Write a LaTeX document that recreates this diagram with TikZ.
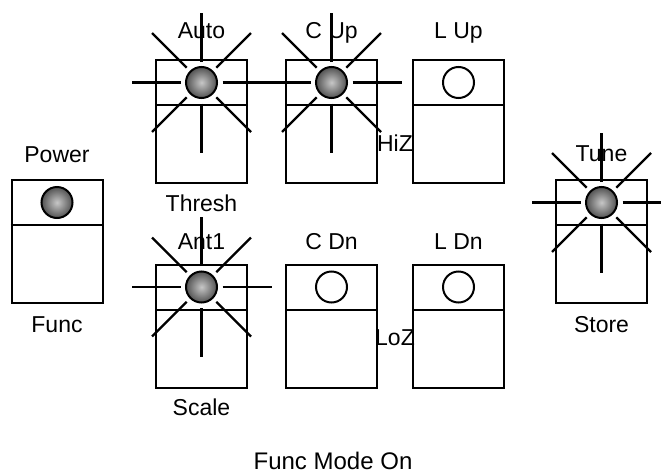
\documentclass[tikz,border=0pt]{standalone}
\usepackage{fontspec}
\setmainfont{Liberation Sans}
\usetikzlibrary{positioning}

\tikzset{
  btn/.style={draw,line width=2pt,minimum width=91pt,minimum height=123pt,inner sep=0pt},
  led/.style={circle,draw,line width=2pt,minimum size=31pt,inner sep=0pt},
  ledon/.style={led,shading=radial,inner color=black!22,outer color=black!68},
  ray/.style={line width=2.4pt},
  lbl/.style={font=\fontsize{23}{25}\selectfont,inner sep=0pt,text height=16.5pt,text depth=0pt}
}

\begin{document}
\begin{tikzpicture}[x=1pt,y=-1pt]
  \useasboundingbox (0,0) rectangle (661,474);

  % ボタン
  \node[btn] (power) at (57,241.5) {};
  \node[btn] (auto)  at (201.5,121.5) {};
  \node[btn] (cup)   at (331.5,121.5) {};
  \node[btn] (lup)   at (458.5,121.5) {};
  \node[btn] (ant)   at (201.5,326) {};
  \node[btn] (cdn)   at (331.5,326) {};
  \node[btn] (ldn)   at (458.5,326) {};
  \node[btn] (tune)  at (601.5,241.5) {};

  % 仕切り
  \foreach \n in {power,auto,cup,lup,ant,cdn,ldn,tune}
    \draw[line width=2pt] ([yshift=-46pt]\n.north west) -- ([yshift=-46pt]\n.north east);

  % LED
  \node[ledon,below=7pt of power.north] (powerled) {};
  \node[ledon,below=7pt of auto.north] (autoled) {};
  \node[ledon,below=7pt of cup.north] (cupled) {};
  \node[led,below=7pt of lup.north] (lupled) {};
  \node[ledon,below=7pt of ant.north] (antled) {};
  \node[led,below=7pt of cdn.north] (cdnled) {};
  \node[led,below=7pt of ldn.north] (ldnled) {};
  \node[ledon,below=7pt of tune.north] (tuneled) {};

  % 点滅
  \foreach \n in {autoled,cupled,antled,tuneled}
    \foreach \a in {0,45,...,315}
      \draw[ray] ([shift={(\a:21pt)}]\n.center) -- ([shift={(\a:70pt)}]\n.center);

  % ラベル
  \node[lbl,above=16.75pt of power] {Power};
  \node[lbl,below=11.75pt of power] {Func};
  \node[lbl,above=20.75pt of auto] {Auto};
  \node[lbl,below=10.5pt of auto] {Thresh};
  \node[lbl,above=20.75pt of cup] {C Up};
  \node[lbl,above=20.75pt of lup] {L Up};
  \node[lbl,above=13.75pt of ant] {Ant1};
  \node[lbl,below=10.5pt of ant] {Scale};
  \node[lbl,above=13.75pt of cdn] {C Dn};
  \node[lbl,above=13.75pt of ldn] {L Dn};
  \node[lbl,above=17pt of tune] {Tune};
  \node[lbl,below=11.5pt of tune] {Store};
  \node[lbl] (hiz) at (395,143) {HiZ};
  \node[lbl] (loz) at (395,337) {LoZ};
  \node[lbl,font=\fontsize{24}{26}\selectfont] (mode) at (333,461) {Func Mode On};
\end{tikzpicture}
\end{document}
